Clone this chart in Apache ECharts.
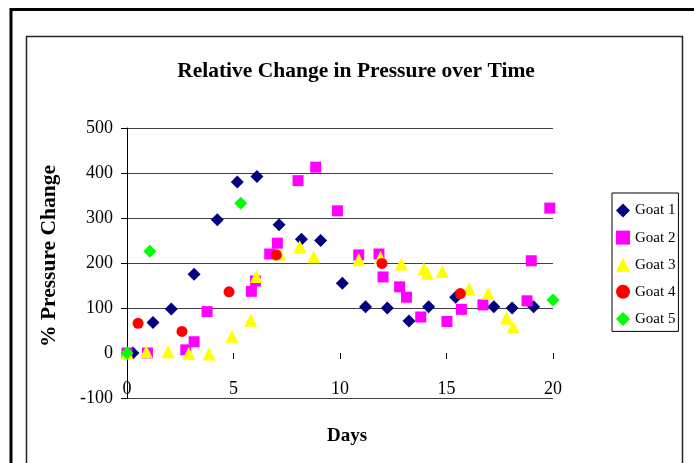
<!DOCTYPE html>
<html>
<head>
<meta charset="utf-8">
<script src="https://cdn.jsdelivr.net/npm/echarts@6/dist/echarts.min.js"></script>
<style>
html,body{margin:0;padding:0;background:#fff;}
#chart{width:694px;height:463px;}
</style>
</head>
<body>
<div id="chart"></div>
<script>
const seriesNames = ['Goat 1', 'Goat 2', 'Goat 3', 'Goat 4', 'Goat 5'];
const yTicks = [-100, 0, 100, 200, 300, 400, 500];
const xTicks = [0, 5, 10, 15, 20];

// [day, % pressure change]
const goat1 = [[0.28,0],[1.22,68],[2.08,98],[3.15,175],[4.24,296],[5.18,380],[6.10,392],[7.14,285],[8.19,253],[9.09,250],[10.11,155],[11.2,103],[12.22,100],[13.24,71],[14.16,103],[15.43,124],[17.22,103],[18.08,100],[19.09,103]];
const goat2 = [[0,0],[0.96,0],[2.76,7],[3.15,25],[3.76,92],[5.84,137],[6.03,160],[6.70,220],[7.06,244],[8.03,383],[8.86,413],[9.88,316],[10.88,218],[11.83,220],[12.02,169],[12.8,147],[13.12,124],[13.79,80],[15.02,70],[15.7,97],[16.71,107],[18.78,116],[18.98,205],[19.85,322]];
const goat3 = [[0,0],[0.91,3],[1.93,3],[2.9,-1],[3.85,-2],[4.93,37],[5.81,73],[6.07,170],[7.17,220],[8.11,236],[8.77,214],[10.88,207],[11.9,212],[12.88,198],[13.94,187],[14.1,177],[14.8,181],[16.06,142],[16.95,133],[17.81,78],[18.12,58]];
const goat4 = [[0.52,66],[2.58,48],[4.79,136],[7.01,218],[11.97,199],[15.65,132]];
const goat5 = [[0,0],[1.07,226],[5.34,333],[20,118]];

const seriesData = [goat1, goat2, goat3, goat4, goat5];
const colors = ['#000080', '#FF00FF', '#FFFF00', '#FF0000', '#00FF00'];
const symbols = ['diamond', 'rect', 'triangle', 'circle', 'diamond'];
const sizes = [13, 11, 13, 11, 13];

const font = '"Liberation Serif", "Times New Roman", serif';
const chart = echarts.init(document.getElementById('chart'), null, {renderer: 'canvas'});

const gridColors = yTicks.map(v => v === 0 ? 'rgba(0,0,0,0)' : '#404040');

chart.setOption({
  backgroundColor: '#ffffff',
  animation: false,
  title: {
    text: 'Relative Change in Pressure over Time',
    left: 351,
    textAlign: 'center',
    top: 55,
    textStyle: {fontFamily: font, fontSize: 21.5, fontWeight: 'bold', color: '#000'}
  },
  legend: {
    orient: 'vertical',
    left: 612,
    top: 193,
    padding: [10, 3, 5, 4],
    itemGap: 12.1,
    itemWidth: 14,
    itemHeight: 14,
    borderColor: '#000',
    borderWidth: 1,
    data: seriesNames,
    textStyle: {fontFamily: font, fontSize: 15, color: '#000'}
  },
  grid: {left: 127, right: 141, top: 128, bottom: 65, containLabel: false, outerBoundsMode: 'none'},
  xAxis: {
    type: 'value',
    min: xTicks[0],
    max: xTicks[xTicks.length - 1],
    interval: 5,
    name: 'Days',
    nameLocation: 'middle',
    nameGap: 29,
    nameTextStyle: {fontFamily: font, fontSize: 19, fontWeight: 'bold', color: '#000', padding: [0, 0, 0, 14]},
    axisLine: {show: true, onZero: true, lineStyle: {color: 'rgba(0,0,0,0)'}},
    axisTick: {show: true, length: 6, inside: false, lineStyle: {color: '#000', width: 1}},
    axisLabel: {fontFamily: font, fontSize: 18, color: '#000', margin: -18},
    splitLine: {show: false}
  },
  yAxis: {
    type: 'value',
    min: yTicks[0],
    max: yTicks[yTicks.length - 1],
    interval: 100,
    name: '% Pressure Change',
    nameLocation: 'middle',
    nameGap: 67,
    nameRotate: 90,
    nameTextStyle: {fontFamily: font, fontSize: 21.5, fontWeight: 'bold', color: '#000', padding: [0, 0, 0, 14]},
    axisLine: {show: true, onZero: false, lineStyle: {color: '#000', width: 1}},
    axisTick: {show: true, length: 6, lineStyle: {color: '#000', width: 1}},
    axisLabel: {fontFamily: font, fontSize: 18, color: '#000', margin: 14},
    splitLine: {show: true, lineStyle: {color: gridColors, width: 1}}
  },
  series: seriesNames.map((name, i) => ({
    name: name,
    type: 'scatter',
    data: seriesData[i],
    symbol: symbols[i],
    symbolSize: sizes[i],
    itemStyle: {color: colors[i], opacity: 1},
    emphasis: {disabled: true}
  })),
  graphic: [
    {type: 'polyline', shape: {points: [[11, 463], [11, 9.5], [694, 9.5]]}, style: {stroke: '#000', lineWidth: 3, fill: null}, silent: true},
    {type: 'polyline', shape: {points: [[26.5, 463], [26.5, 36.5], [682.5, 36.5], [682.5, 463]]}, style: {stroke: '#222', lineWidth: 1.5, fill: null}, silent: true}
  ]
});
</script>
</body>
</html>
